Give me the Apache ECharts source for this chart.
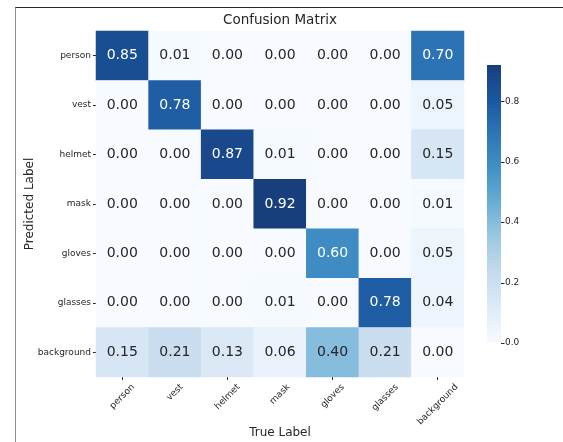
<!DOCTYPE html>
<html>
<head>
<meta charset="utf-8">
<script src="https://cdn.jsdelivr.net/npm/echarts@6/dist/echarts.min.js"></script>
<style>
  html, body { margin: 0; padding: 0; background: #fff; }
  #frame { position: absolute; left: 15px; top: 7px; width: 548px; height: 435px;
           border-top: 1px solid #2a2a2a; border-left: 1px solid #8c8c8c; }
  #chart { position: absolute; left: 0; top: 0; width: 563px; height: 442px; }
</style>
</head>
<body>
<div id="chart"></div>
<div id="frame"></div>
<script>
// Class names shared by both axes
const classes = ['person', 'vest', 'helmet', 'mask', 'gloves', 'glasses', 'background'];

// Normalized confusion matrix, one array per predicted class (row), columns = true class
const rowPerson     = [0.85, 0.01, 0.00, 0.00, 0.00, 0.00, 0.70];
const rowVest       = [0.00, 0.78, 0.00, 0.00, 0.00, 0.00, 0.05];
const rowHelmet     = [0.00, 0.00, 0.87, 0.01, 0.00, 0.00, 0.15];
const rowMask       = [0.00, 0.00, 0.00, 0.92, 0.00, 0.00, 0.01];
const rowGloves     = [0.00, 0.00, 0.00, 0.00, 0.60, 0.00, 0.05];
const rowGlasses    = [0.00, 0.00, 0.00, 0.01, 0.00, 0.78, 0.04];
const rowBackground = [0.15, 0.21, 0.13, 0.06, 0.40, 0.21, 0.00];

// Colorbar ticks: first, last and step
const colorbarTickMin = 0.0;
const colorbarTickMax = 0.8;
const colorbarTickStep = 0.2;

const rows = [rowPerson, rowVest, rowHelmet, rowMask, rowGloves, rowGlasses, rowBackground];

// Blues-style sequential ramp
const blues = ['#f7fbff', '#deebf7', '#c6dbef', '#9ecae1', '#6baed6', '#4292c6', '#2e76b8', '#1b57a0', '#173f7c'];

const vMin = 0;
const vMax = Math.max(...rows.flat());

const FONT = '"DejaVu Sans", sans-serif';
const TXT = '#262626';

function textColorFor(v) {
  // light text on dark cells, dark text on light cells
  return (v - vMin) / (vMax - vMin) > 0.55 ? '#ffffff' : TXT;
}

const cells = [];
rows.forEach((r, yi) => r.forEach((v, xi) => {
  cells.push({ value: [xi, yi, v], label: { color: textColorFor(v) } });
}));

const chart = echarts.init(document.getElementById('chart'), null, { renderer: 'canvas' });

const GRID = { left: 96, top: 31, width: 368, height: 346 };
// Colorbar: full bar spans vMin..vMax; the tick axis only covers the labelled range
const CBAR = { left: 487, top: 65, width: 14, bottom: 343 };
const barPxPerUnit = (CBAR.bottom - CBAR.top) / (vMax - vMin);
const tickAxisTop = CBAR.bottom - (colorbarTickMax - vMin) * barPxPerUnit;

chart.setOption({
  animation: false,
  backgroundColor: '#fff',
  title: {
    text: 'Confusion Matrix',
    left: 280, top: 13, padding: 0, textAlign: 'center',
    textStyle: { fontFamily: FONT, fontSize: 13.5, fontWeight: 'normal', color: TXT }
  },
  grid: [
    { left: GRID.left, top: GRID.top, width: GRID.width, height: GRID.height, outerBoundsMode: 'none' },
    { left: CBAR.left, top: tickAxisTop, width: CBAR.width, height: CBAR.bottom - tickAxisTop, outerBoundsMode: 'none' }
  ],
  xAxis: [
    {
      type: 'category', data: classes, gridIndex: 0,
      axisLine: { show: false },
      axisTick: { show: true, length: 3, alignWithLabel: true, lineStyle: { color: TXT, width: 1 } },
      axisLabel: { show: false },
      splitLine: { show: false },
      name: 'True Label', nameLocation: 'middle', nameGap: 50, nameMoveOverlap: false,
      nameTextStyle: { fontFamily: FONT, fontSize: 12, color: TXT }
    },
    { type: 'value', gridIndex: 1, show: false, min: 0, max: 1,
      axisLine: { show: false }, axisTick: { show: false }, axisLabel: { show: false }, splitLine: { show: false } }
  ],
  yAxis: [
    {
      type: 'category', data: classes, inverse: true, gridIndex: 0,
      axisLine: { show: false },
      axisTick: { show: true, length: 3, alignWithLabel: true, lineStyle: { color: TXT, width: 1 } },
      axisLabel: { fontFamily: FONT, fontSize: 9, color: TXT, margin: 5 },
      splitLine: { show: false },
      name: 'Predicted Label', nameLocation: 'middle', nameGap: 60, nameMoveOverlap: false,
      nameTextStyle: { fontFamily: FONT, fontSize: 12, color: TXT }
    },
    {
      type: 'value', gridIndex: 1, position: 'right',
      min: colorbarTickMin, max: colorbarTickMax, interval: colorbarTickStep,
      axisLine: { show: false },
      splitLine: { show: false },
      axisTick: { show: false },
      axisLabel: {
        margin: 4, fontFamily: FONT, fontSize: 9, color: TXT,
        formatter: v => v.toFixed(1)
      }
    }
  ],
  visualMap: {
    type: 'continuous', min: vMin, max: vMax, seriesIndex: 0, show: false,
    inRange: { color: blues }
  },
  series: [{
    type: 'heatmap', xAxisIndex: 0, yAxisIndex: 0,
    data: cells,
    label: {
      show: true, fontFamily: FONT, fontSize: 14,
      formatter: p => p.value[2].toFixed(2)
    },
    emphasis: { disabled: true }
  }]
});

// Colorbar gradient bar (vMin at the bottom, vMax at the top) with outward ticks,
// plus rotated x tick labels whose bounding box is centered under each tick
(function drawExtras() {
  const yBottom = chart.convertToPixel({ yAxisIndex: 1 }, vMin);
  const yTop = chart.convertToPixel({ yAxisIndex: 1 }, vMax);
  const barRight = CBAR.left + CBAR.width;
  const bar = {
    type: 'rect', silent: true, z: -1,
    shape: { x: CBAR.left, y: yTop, width: CBAR.width, height: yBottom - yTop },
    style: {
      fill: new echarts.graphic.LinearGradient(0, 1, 0, 0,
        blues.map((c, i) => ({ offset: i / (blues.length - 1), color: c })))
    }
  };

  const ticks = [];
  for (let v = colorbarTickMin; v <= colorbarTickMax + 1e-9; v += colorbarTickStep) {
    const y = Math.round(chart.convertToPixel({ yAxisIndex: 1 }, v)) + 0.5;
    ticks.push({
      type: 'line', silent: true,
      shape: { x1: barRight, y1: y, x2: barRight + 3.5, y2: y },
      style: { stroke: TXT, lineWidth: 1 }
    });
  }

  const ctx = document.createElement('canvas').getContext('2d');
  const size = 9;
  ctx.font = size + 'px "DejaVu Sans"';
  const h = size * 1.15;
  const y0 = GRID.top + GRID.height + 5;
  const labels = classes.map(c => {
    const x = chart.convertToPixel({ xAxisIndex: 0 }, c);
    const w = ctx.measureText(c).width;
    const half = (w + h) / (2 * Math.SQRT2);
    return {
      type: 'text', x: x, y: y0 + half, rotation: Math.PI / 4, silent: true,
      style: { text: c, fontFamily: FONT, fontSize: size, fill: TXT, align: 'center', verticalAlign: 'middle' }
    };
  });
  chart.setOption({ graphic: [bar].concat(ticks, labels) });
})();
</script>
</body>
</html>
